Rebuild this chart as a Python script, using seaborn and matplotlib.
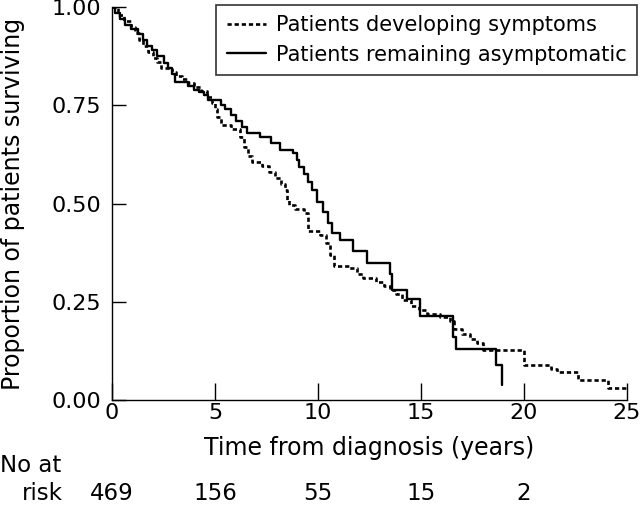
import numpy as np
import pandas as pd
import matplotlib
matplotlib.use('Agg')
import matplotlib.pyplot as plt
import seaborn as sns

# Kaplan-Meier steps (time in years, proportion surviving)
sympt_time = [0, 0.3, 0.6, 0.9, 1.1, 1.3, 1.5, 1.75, 2.0, 2.2, 2.4, 2.9, 3.1, 3.4,
              3.7, 4.0, 4.3, 4.6, 4.85, 5.0, 5.1, 5.3, 5.8, 6.2, 6.4, 6.6, 6.8, 7.3,
              7.6, 7.9, 8.2, 8.4, 8.5, 8.6, 8.9, 9.3, 9.5, 10.1, 10.4, 10.6, 10.8,
              11.5, 11.9, 12.2, 12.8, 13.2, 13.5, 13.8, 14.1, 14.5, 14.9, 15.3, 15.9,
              16.4, 16.6, 17.0, 17.4, 17.7, 18.0, 20.0, 21.3, 21.6, 22.6, 24.1, 25.0]
sympt_surv = [1.0, 0.98, 0.965, 0.95, 0.935, 0.915, 0.90, 0.885, 0.87, 0.86, 0.845,
              0.835, 0.825, 0.818, 0.806, 0.796, 0.785, 0.772, 0.756, 0.74, 0.72,
              0.70, 0.69, 0.67, 0.645, 0.62, 0.605, 0.595, 0.58, 0.565, 0.55, 0.535,
              0.51, 0.495, 0.485, 0.475, 0.43, 0.42, 0.40, 0.37, 0.34, 0.335, 0.32,
              0.31, 0.30, 0.29, 0.28, 0.27, 0.255, 0.24, 0.23, 0.218, 0.211, 0.20,
              0.18, 0.168, 0.155, 0.145, 0.127, 0.089, 0.08, 0.071, 0.051, 0.03, 0.03]

asym_time = [0, 0.15, 0.4, 0.63, 0.9, 1.26, 1.5, 1.7, 1.94, 2.2, 2.5, 2.7, 2.9, 3.06,
             3.7, 4.0, 4.2, 4.45, 4.66, 5.3, 5.5, 5.8, 6.0, 6.3, 6.55, 7.2, 7.7, 8.15,
             8.8, 9.0, 9.1, 9.3, 9.5, 9.7, 9.95, 10.25, 10.5, 10.7, 11.07, 11.7, 12.4,
             13.5, 13.6, 14.3, 14.95, 16.55, 16.7, 18.65, 18.95]
asym_surv = [1.0, 0.985, 0.97, 0.955, 0.945, 0.932, 0.915, 0.90, 0.89, 0.875, 0.857,
             0.845, 0.83, 0.81, 0.80, 0.79, 0.784, 0.775, 0.763, 0.75, 0.74, 0.725,
             0.71, 0.695, 0.68, 0.67, 0.655, 0.637, 0.628, 0.61, 0.593, 0.575, 0.555,
             0.535, 0.505, 0.478, 0.45, 0.425, 0.408, 0.38, 0.348, 0.32, 0.28, 0.257,
             0.214, 0.16, 0.13, 0.089, 0.038]

risk_years = [0, 5, 10, 15, 20]
risk_counts = [469, 156, 55, 15, 2]

sns.set_style('ticks')
plt.rcParams['font.family'] = ['DejaVu Sans']
plt.rcParams['text.color'] = 'black'
plt.rcParams['axes.labelcolor'] = 'black'
plt.rcParams['xtick.color'] = 'black'
plt.rcParams['ytick.color'] = 'black'

fig = plt.figure(figsize=(6.4, 5.07), dpi=100)
ax = fig.add_axes([112 / 640, 1 - 400 / 507, 515 / 640, 393 / 507])

sns.lineplot(x=sympt_time, y=sympt_surv, ax=ax, estimator=None, sort=False,
             drawstyle='steps-post', color='black', lw=1.9,
             linestyle=(0, (1.6, 1.1)), label='Patients developing symptoms')
sns.lineplot(x=asym_time, y=asym_surv, ax=ax, estimator=None, sort=False,
             drawstyle='steps-post', color='black', lw=1.7,
             label='Patients remaining asymptomatic')

ax.set_xlim(0, 25)
ax.set_ylim(0, 1)
ax.set_xticks(range(0, 26, 5))
ax.set_yticks([0, 0.25, 0.5, 0.75, 1.0])
ax.set_yticklabels(['0.00', '0.25', '0.50', '0.75', '1.00'])
ax.tick_params(axis='x', direction='in', length=12, width=1, pad=2, labelsize=16)
ax.tick_params(axis='y', direction='in', length=10, width=1, pad=8, labelsize=16)
sns.despine(ax=ax)
for s in ['left', 'bottom']:
    ax.spines[s].set_linewidth(1)
    ax.spines[s].set_color('black')

ax.set_xlabel('Time from diagnosis (years)', fontsize=17)
ax.set_ylabel('Proportion of patients surviving', fontsize=17)
ax.xaxis.set_label_coords(0.5, -0.092)
ax.yaxis.set_label_coords(-0.168, 0.5)

leg = ax.legend(loc='upper right', bbox_to_anchor=(637 / 640, 1 - 5 / 507),
                bbox_transform=fig.transFigure, borderaxespad=0, fontsize=15,
                frameon=True, fancybox=False, handlelength=1.9,
                handletextpad=0.45, borderpad=0.5, labelspacing=0.45)
leg.get_frame().set_edgecolor('black')
leg.get_frame().set_linewidth(1.2)

# number at risk table
fig.text(0.0, 1 - 465 / 507, 'No at', fontsize=16.5, ha='left', va='center')
fig.text(63 / 640, 1 - 493 / 507, 'risk', fontsize=16.5, ha='right', va='center')
trans = ax.get_xaxis_transform()
for yr, n in zip(risk_years, risk_counts):
    ax.text(yr, (400 - 493) / 393, str(n), transform=trans, fontsize=16.5,
            ha='center', va='center', clip_on=False)

fig.savefig('out.png', dpi=100)
